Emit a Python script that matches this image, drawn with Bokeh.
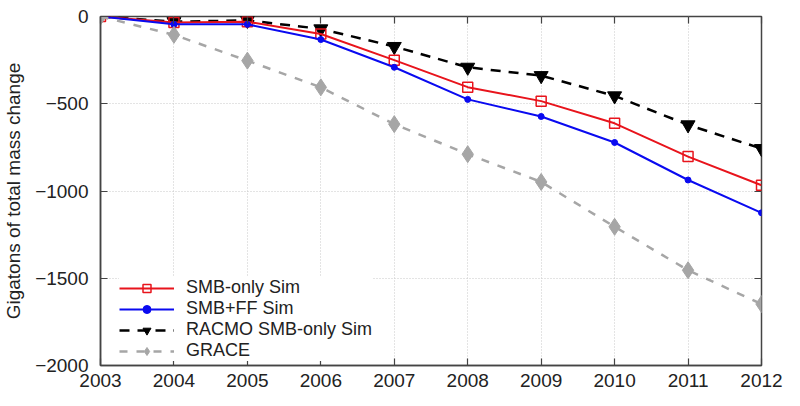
from bokeh.plotting import figure
from bokeh.models import (Range1d, LinearAxis, FixedTicker, Legend, LegendItem)
from bokeh.embed import file_html
from bokeh.resources import INLINE

years = [2003, 2004, 2005, 2006, 2007, 2008, 2009, 2010, 2011, 2012]
smb_only = [0, -34, -30, -100, -250, -405, -485, -612, -803, -967]
smb_ff = [0, -45, -45, -132, -291, -475, -573, -722, -937, -1125]
racmo = [0, -30, -22, -71, -172, -291, -339, -455, -621, -757]
grace = [0, -105, -253, -406, -617, -789, -948, -1205, -1454, -1648]
y_ticks = [0, -500, -1000, -1500, -2000]
labels = ["SMB-only Sim", "SMB+FF Sim", "RACMO SMB-only Sim", "GRACE"]

FONT = "Liberation Sans"

p = figure(width=784, height=398, output_backend="svg", toolbar_location=None,
           x_range=Range1d(2003, 2012), y_range=Range1d(-2000, 0),
           min_border_left=91, min_border_right=23, min_border_top=16,
           min_border_bottom=33)

p.background_fill_color = "white"
p.border_fill_color = "white"
p.outline_line_color = "#444444"
p.outline_line_width = 1.5

# axes
p.xaxis.ticker = FixedTicker(ticks=years)
p.yaxis.ticker = FixedTicker(ticks=y_ticks)
for ax in (p.xaxis[0], p.yaxis[0]):
    ax.major_tick_in = 7
    ax.major_tick_out = 0
    ax.minor_tick_in = 0
    ax.minor_tick_out = 0
    ax.axis_line_color = "#444444"
    ax.axis_line_width = 1.5
    ax.major_tick_line_color = "#444444"
    ax.major_tick_line_width = 1.2
    ax.major_label_text_font = FONT
    ax.major_label_text_font_size = "19px"
    ax.major_label_text_color = "#222222"
p.xaxis.major_label_standoff = 8
p.yaxis.major_label_standoff = 12
p.yaxis.axis_label = "Gigatons of total mass change"
p.yaxis.axis_label_text_font = FONT
p.yaxis.axis_label_text_font_size = "19px"
p.yaxis.axis_label_text_font_style = "normal"
p.yaxis.axis_label_text_color = "#222222"
p.yaxis.axis_label_standoff = 8

# mirrored ticks on top and right
top = LinearAxis(ticker=FixedTicker(ticks=years),
                 major_label_overrides={y: "" for y in years})
right = LinearAxis(ticker=FixedTicker(ticks=y_ticks),
                   major_label_overrides={v: "" for v in y_ticks})
for ax in (top, right):
    ax.major_tick_in = 7
    ax.major_tick_out = 0
    ax.minor_tick_in = 0
    ax.minor_tick_out = 0
    ax.axis_line_color = None
    ax.major_tick_line_color = "#444444"
    ax.major_tick_line_width = 1.2
    ax.major_label_standoff = 0
    ax.major_label_text_font_size = "1px"
p.add_layout(top, "above")
p.add_layout(right, "right")

# grid
p.xgrid.grid_line_color = "#c8c8c8"
p.xgrid.grid_line_dash = "1 2"
p.xgrid.grid_line_width = 1
p.ygrid.grid_line_color = "#c8c8c8"
p.ygrid.grid_line_dash = "1 2"
p.ygrid.grid_line_width = 1

RED = "#e8141c"
BLUE = "#0a0af0"
GRAY = "#a6a6a6"

l_racmo = p.line(years, racmo, line_color="black", line_width=2.5, line_dash="10 8")
m_racmo = p.scatter(years, racmo, marker="inverted_triangle", size=14,
                    fill_color="black", line_color="black")
l_red = p.line(years, smb_only, line_color=RED, line_width=2)
m_red = p.scatter(years, smb_only, marker="square", size=10, fill_color=None,
                  line_color=RED, line_width=1.5)
l_blue = p.line(years, smb_ff, line_color=BLUE, line_width=2)
m_blue = p.scatter(years, smb_ff, marker="circle", size=6, fill_color=BLUE,
                   line_color=BLUE)
l_grace = p.line(years, grace, line_color=GRAY, line_width=2.5, line_dash="8 9")
m_grace = p.scatter(years, grace, marker="diamond", size=17, fill_color=GRAY,
                    line_color=GRAY)

rends = [[l_red, m_red], [l_blue, m_blue], [l_racmo, m_racmo], [l_grace, m_grace]]
legend = Legend(items=[LegendItem(label=lab, renderers=rr)
                       for lab, rr in zip(labels, rends)], location=(19, 4))
legend.margin = 0
legend.padding = 5
legend.spacing = 0
legend.glyph_width = 55
legend.glyph_height = 20
legend.label_height = 20
legend.label_standoff = 12
legend.label_text_font = FONT
legend.label_text_font_size = "18px"
legend.label_text_color = "#222222"
legend.border_line_color = None
legend.background_fill_color = "white"
legend.background_fill_alpha = 1
p.add_layout(legend, "center")

open("out.html", "w").write(file_html(p, INLINE))
